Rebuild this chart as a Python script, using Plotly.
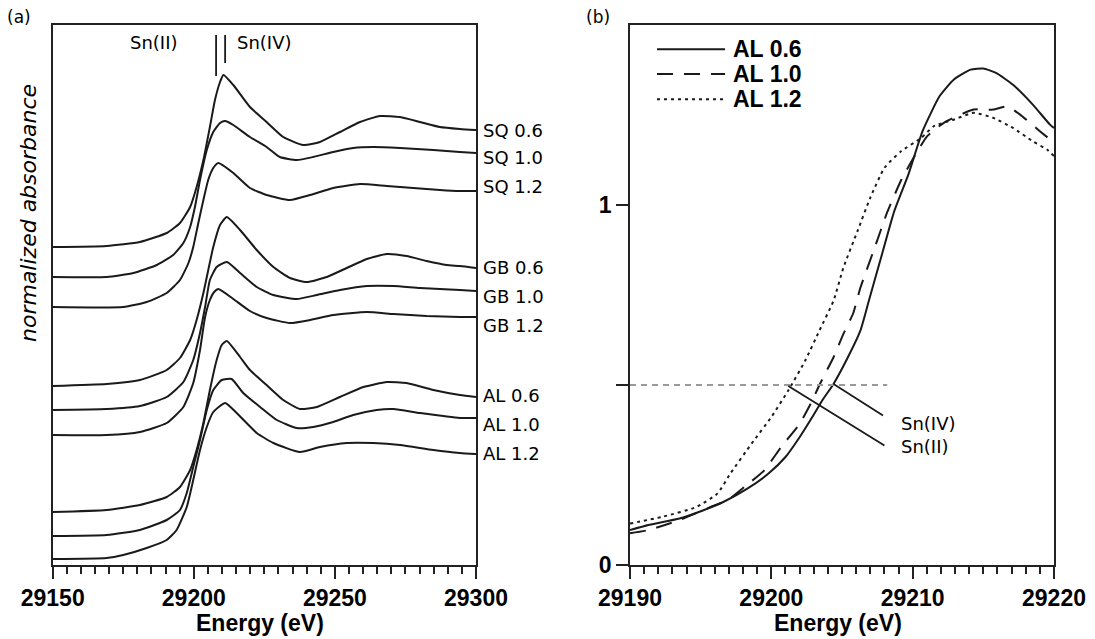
import plotly.graph_objects as go

W, H = 1095, 639

# ---------------- panel (a): stacked Sn K-edge XANES (display offsets included) ----------------
sq06_e = [29150, 29169.1, 29180.9, 29190.4, 29195.1, 29198.7, 29201.0, 29203.4, 29205.7, 29207.5, 29209.3, 29210.5,
          29214.0, 29219.9, 29225.8, 29231.7, 29238.8, 29244.7, 29251.8, 29258.9, 29266.0, 29273.1, 29280.2, 29287.2,
          29294.3, 29300]
sq06_y = [3.18, 3.19, 3.23, 3.32, 3.42, 3.58, 3.78, 4.05, 4.38, 4.65, 4.83, 4.90,
          4.80, 4.58, 4.43, 4.28, 4.20, 4.23, 4.33, 4.43, 4.49, 4.48, 4.43, 4.38, 4.36, 4.35]

sq10_e = [29150, 29169.1, 29178.6, 29186.9, 29192.7, 29196.3, 29198.7, 29200.4, 29202.2, 29204.6, 29206.9, 29209.3,
          29211.1, 29214.0, 29219.9, 29225.8, 29230.5, 29236.5, 29242.3, 29249.4, 29256.5, 29263.6, 29273.1, 29284.9,
          29294.3, 29300]
sq10_y = [2.88, 2.88, 2.92, 3.00, 3.10, 3.22, 3.38, 3.58, 3.85, 4.15, 4.33, 4.42,
          4.44, 4.40, 4.28, 4.18, 4.08, 4.05, 4.08, 4.13, 4.17, 4.18, 4.17, 4.15, 4.13, 4.12]

sq12_e = [29150, 29175.0, 29183.3, 29190.4, 29195.1, 29198.1, 29199.8, 29201.6, 29203.4, 29205.1, 29206.9, 29208.7,
          29214.0, 29219.9, 29225.8, 29234.1, 29241.2, 29249.4, 29258.9, 29268.4, 29277.8, 29287.2, 29294.3, 29300]
sq12_y = [2.58, 2.58, 2.63, 2.72, 2.85, 3.02, 3.18, 3.42, 3.65, 3.85, 3.97, 4.02,
          3.92, 3.77, 3.70, 3.65, 3.70, 3.77, 3.81, 3.79, 3.77, 3.75, 3.74, 3.74]

gb06_e = [29150, 29169.1, 29180.9, 29190.4, 29195.1, 29198.7, 29201.0, 29203.4, 29206.9, 29209.3, 29211.7, 29216.4,
          29222.3, 29228.2, 29234.1, 29240.0, 29247.1, 29254.2, 29261.3, 29268.4, 29275.4, 29282.5, 29289.6, 29294.3,
          29300]
gb06_y = [1.79, 1.81, 1.85, 1.95, 2.07, 2.25, 2.45, 2.72, 3.18, 3.40, 3.48, 3.35,
          3.15, 2.98, 2.87, 2.83, 2.88, 2.97, 3.06, 3.11, 3.09, 3.04, 3.00, 2.99, 2.97]

gb10_e = [29150, 29169.1, 29180.9, 29190.4, 29196.3, 29199.8, 29202.2, 29204.0, 29205.7, 29208.1, 29211.7, 29216.4,
          29222.3, 29228.2, 29236.5, 29243.6, 29251.8, 29261.3, 29270.7, 29280.2, 29294.3, 29300]
gb10_y = [1.55, 1.56, 1.59, 1.68, 1.83, 2.05, 2.32, 2.58, 2.85, 2.98, 3.03, 2.92,
          2.78, 2.70, 2.66, 2.70, 2.75, 2.79, 2.79, 2.77, 2.75, 2.74]

gb12_e = [29150, 29169.1, 29180.9, 29190.4, 29196.3, 29199.8, 29202.2, 29204.0, 29205.7, 29207.2, 29208.7, 29214.0,
          29219.9, 29225.8, 29234.1, 29241.2, 29249.4, 29261.3, 29270.7, 29282.5, 29294.3, 29300]
gb12_y = [1.30, 1.30, 1.33, 1.42, 1.58, 1.82, 2.15, 2.48, 2.65, 2.73, 2.76, 2.66,
          2.54, 2.47, 2.42, 2.45, 2.50, 2.53, 2.51, 2.49, 2.48, 2.48]

al06_e = [29150, 29169.1, 29180.9, 29190.4, 29195.1, 29198.7, 29201.0, 29203.4, 29205.7, 29208.1, 29209.9, 29211.7,
          29216.4, 29219.9, 29225.8, 29231.7, 29237.6, 29243.6, 29251.8, 29260.1, 29268.4, 29275.4, 29284.9, 29294.3,
          29300]
al06_y = [0.53, 0.55, 0.60, 0.68, 0.78, 0.95, 1.15, 1.42, 1.75, 2.05, 2.20, 2.24,
          2.08, 1.95, 1.80, 1.65, 1.56, 1.58, 1.68, 1.78, 1.83, 1.82, 1.75, 1.70, 1.68]

al10_e = [29150, 29169.1, 29180.9, 29190.4, 29195.1, 29197.5, 29199.8, 29202.2, 29204.6, 29206.9, 29209.9, 29213.4,
          29217.5, 29223.5, 29229.4, 29236.5, 29242.3, 29249.4, 29256.5, 29264.8, 29270.7, 29280.2, 29294.3, 29300]
al10_y = [0.29, 0.30, 0.35, 0.45, 0.55, 0.72, 0.98, 1.25, 1.55, 1.75, 1.85, 1.86,
          1.72, 1.58, 1.45, 1.37, 1.38, 1.43, 1.50, 1.55, 1.56, 1.52, 1.47, 1.47]

al12_e = [29150, 29169.1, 29175.0, 29183.3, 29190.4, 29193.9, 29197.5, 29199.8, 29202.2, 29204.6, 29206.9, 29211.1,
          29215.2, 29222.3, 29228.2, 29237.6, 29244.7, 29254.2, 29263.6, 29273.1, 29284.9, 29294.3, 29300]
al12_y = [0.06, 0.07, 0.10, 0.17, 0.25, 0.35, 0.58, 0.85, 1.15, 1.38, 1.53, 1.62,
          1.52, 1.32, 1.22, 1.13, 1.18, 1.22, 1.22, 1.20, 1.15, 1.12, 1.11]

a_names = ["SQ 0.6", "SQ 1.0", "SQ 1.2", "GB 0.6", "GB 1.0", "GB 1.2", "AL 0.6", "AL 1.0", "AL 1.2"]
a_series = [(sq06_e, sq06_y), (sq10_e, sq10_y), (sq12_e, sq12_y),
            (gb06_e, gb06_y), (gb10_e, gb10_y), (gb12_e, gb12_y),
            (al06_e, al06_y), (al10_e, al10_y), (al12_e, al12_y)]

sn2_edge_a = 29207.9   # Sn(II) marker energy, panel (a)
sn4_edge_a = 29211.1   # Sn(IV) marker energy, panel (a)

# ---------------- panel (b): AL edge region, normalized ----------------
b_al06_e = [29190, 29191.3, 29193.5, 29195.2, 29196.6, 29198.3, 29199.8, 29201.0, 29202.0, 29202.9, 29203.6, 29204.4,
            29205.3, 29206.3, 29206.9, 29207.7, 29208.7, 29209.7, 29210.7, 29211.9, 29212.9, 29214.1, 29215.0, 29215.9,
            29217.1, 29218.5, 29219.7, 29220]
b_al06_y = [0.097, 0.111, 0.129, 0.152, 0.175, 0.212, 0.254, 0.300, 0.355, 0.411, 0.457, 0.503,
            0.568, 0.651, 0.734, 0.845, 0.983, 1.085, 1.205, 1.302, 1.348, 1.376, 1.379, 1.367,
            1.334, 1.279, 1.224, 1.214]

b_al10_e = [29190, 29191.3, 29193.5, 29195.7, 29196.9, 29198.1, 29199.5, 29200.7, 29202.0, 29202.9, 29203.4, 29204.4,
            29205.1, 29205.8, 29206.3, 29207.3, 29208.2, 29209.2, 29210.2, 29211.0, 29211.7, 29212.4, 29214.3, 29215.7,
            29216.7, 29217.6, 29219.0, 29220]
b_al10_y = [0.088, 0.097, 0.125, 0.161, 0.180, 0.217, 0.263, 0.328, 0.392, 0.457, 0.500, 0.577,
            0.642, 0.700, 0.770, 0.880, 0.980, 1.070, 1.140, 1.190, 1.214, 1.233, 1.265, 1.265,
            1.274, 1.251, 1.205, 1.173]

b_al12_e = [29190, 29192.3, 29194.7, 29196.2, 29197.1, 29198.6, 29200.0, 29201.2, 29202.4, 29203.4, 29204.4, 29205.1,
            29206.1, 29207.0, 29208.0, 29209.2, 29210.6, 29211.5, 29212.9, 29214.3, 29215.7, 29217.1, 29218.5, 29219.5,
            29220]
b_al12_y = [0.115, 0.134, 0.161, 0.199, 0.254, 0.337, 0.411, 0.485, 0.568, 0.651, 0.734, 0.826,
            0.928, 1.020, 1.103, 1.150, 1.186, 1.219, 1.237, 1.256, 1.242, 1.214, 1.177, 1.154,
            1.136]

b_names = ["AL 0.6", "AL 1.0", "AL 1.2"]
half_level = 0.5
half_line_end = 29208.2
sn4_pointer = ([29204.4, 29207.9], [0.503, 0.415])
sn2_pointer = ([29201.2, 29208.0], [0.497, 0.332])
sn_label_e = 29209.0
sn4_label_y = 0.394
sn2_label_y = 0.328

# ---------------- figure ----------------
def px(x):
    return x / W

def py(y):
    return 1 - y / H

INK = "#1a1a1a"
AX = "#222222"
TXT_FONT = "DejaVu Sans"
BOLD_FONT = "Liberation Sans"

fig = go.Figure()

for name, (e, v) in zip(a_names, a_series):
    fig.add_trace(go.Scatter(x=e, y=v, mode="lines", name=name, xaxis="x", yaxis="y",
                             line=dict(color=INK, width=2, shape="spline", smoothing=0.5),
                             showlegend=False, hoverinfo="skip"))

dashes = ["solid", "16px,11px", "3px,4px"]
for name, e, v, d in zip(b_names, [b_al06_e, b_al10_e, b_al12_e], [b_al06_y, b_al10_y, b_al12_y], dashes):
    fig.add_trace(go.Scatter(x=e, y=v, mode="lines", name=name, xaxis="x2", yaxis="y2",
                             line=dict(color=INK, width=2, dash=d, shape="spline", smoothing=0.5),
                             showlegend=False, hoverinfo="skip"))

# reference line at half edge step and pointer lines
fig.add_trace(go.Scatter(x=[29190, half_line_end], y=[half_level, half_level], mode="lines",
                         xaxis="x2", yaxis="y2", line=dict(color="#9a9a9a", width=2, dash="6px,5px"),
                         showlegend=False, hoverinfo="skip"))
for ptr in (sn4_pointer, sn2_pointer):
    fig.add_trace(go.Scatter(x=ptr[0], y=ptr[1], mode="lines", xaxis="x2", yaxis="y2",
                             line=dict(color=INK, width=1.8), showlegend=False, hoverinfo="skip"))

axis_common = dict(showline=True, linecolor=AX, linewidth=1.5, mirror=True, showgrid=False, zeroline=False,
                   automargin=False)
tickfont = dict(family=BOLD_FONT, size=23, color="black", weight="bold")

fig.update_layout(
    width=W, height=H,
    margin=dict(l=0, r=0, t=0, b=0, autoexpand=False),
    paper_bgcolor="white", plot_bgcolor="white",
    showlegend=False,
    xaxis=dict(domain=[px(52.7), px(476)], range=[29150, 29300], tickmode="linear", tick0=29150, dtick=50,
               tickformat="d",
               ticks="outside", ticklen=12, tickwidth=1.5, tickcolor=AX, tickfont=tickfont,
               minor=dict(dtick=5, ticks="outside", ticklen=7, tickwidth=1.5, tickcolor=AX),
               anchor="y", **axis_common),
    yaxis=dict(domain=[py(565), py(25)], range=[0, 5.40], showticklabels=False, ticks="",
               anchor="x", **axis_common),
    xaxis2=dict(domain=[px(630), px(1054)], range=[29190, 29220], tickmode="linear", tick0=29190, dtick=10,
                tickformat="d",
                ticks="outside", ticklen=12, tickwidth=1.5, tickcolor=AX, tickfont=tickfont,
                minor=dict(dtick=1, ticks="outside", ticklen=7, tickwidth=1.5, tickcolor=AX),
                anchor="y2", **axis_common),
    yaxis2=dict(domain=[py(565), py(25)], range=[0, 1.5], tickmode="array", tickvals=[0, 0.5, 1],
                ticktext=["0", "", "1"], ticks="outside", ticklen=12, tickwidth=2, tickcolor=AX,
                tickfont=tickfont, anchor="x2", **axis_common),
)

shapes = []
# Sn(II) / Sn(IV) markers in panel (a)
shapes.append(dict(type="line", xref="x", yref="y", x0=sn2_edge_a, x1=sn2_edge_a, y0=5.30, y1=4.89,
                   line=dict(color=INK, width=1.8)))
shapes.append(dict(type="line", xref="x", yref="y", x0=sn4_edge_a, x1=sn4_edge_a, y0=5.30, y1=5.02,
                   line=dict(color=INK, width=1.8)))
# legend samples in panel (b)
legend_rows = [49.3, 74, 99.3]
for yy, d in zip(legend_rows, dashes):
    shapes.append(dict(type="line", xref="paper", yref="paper", x0=px(657), x1=px(725), y0=py(yy), y1=py(yy),
                       line=dict(color=INK, width=2, dash=d)))
fig.update_layout(shapes=shapes)

ann = []
txt = dict(family=TXT_FONT, size=18, color="black")
label_rows = [130, 157, 186, 267, 296, 325, 396, 424, 453]
for name, yy in zip(a_names, label_rows):
    ann.append(dict(text=name, xref="paper", yref="paper", x=px(481), y=py(yy), xanchor="left",
                    yanchor="middle", showarrow=False, font=txt))
ann.append(dict(text="Sn(II)", xref="paper", yref="paper", x=px(154), y=py(43), xanchor="center",
                yanchor="middle", showarrow=False, font=txt))
ann.append(dict(text="Sn(IV)", xref="paper", yref="paper", x=px(235), y=py(43), xanchor="left",
                yanchor="middle", showarrow=False, font=txt))
ann.append(dict(text="Sn(IV)", xref="x2", yref="y2", x=sn_label_e, y=sn4_label_y, xanchor="left",
                yanchor="middle", showarrow=False, font=txt))
ann.append(dict(text="Sn(II)", xref="x2", yref="y2", x=sn_label_e, y=sn2_label_y, xanchor="left",
                yanchor="middle", showarrow=False, font=txt))
ann.append(dict(text="(a)", xref="paper", yref="paper", x=px(19), y=py(17), xanchor="center",
                yanchor="middle", showarrow=False, font=dict(family=TXT_FONT, size=17, color="black")))
ann.append(dict(text="(b)", xref="paper", yref="paper", x=px(598), y=py(17), xanchor="center",
                yanchor="middle", showarrow=False, font=dict(family=TXT_FONT, size=17, color="black")))
ann.append(dict(text="normalized absorbance", xref="paper", yref="paper", x=px(29), y=py(213),
                xanchor="center", yanchor="middle", textangle=-90, showarrow=False,
                font=dict(family=TXT_FONT, size=22, color="black", style="italic")))
for cx in (260, 838):
    ann.append(dict(text="Energy (eV)", xref="paper", yref="paper", x=px(cx), y=py(623),
                    xanchor="center", yanchor="middle", showarrow=False,
                    font=dict(family=BOLD_FONT, size=23, color="black", weight="bold")))
for name, yy in zip(b_names, legend_rows):
    ann.append(dict(text=name, xref="paper", yref="paper", x=px(731), y=py(yy), xanchor="left",
                    yanchor="middle", showarrow=False,
                    font=dict(family=BOLD_FONT, size=23, color="black", weight="bold")))
fig.update_layout(annotations=ann)

fig.write_html("out.html")
